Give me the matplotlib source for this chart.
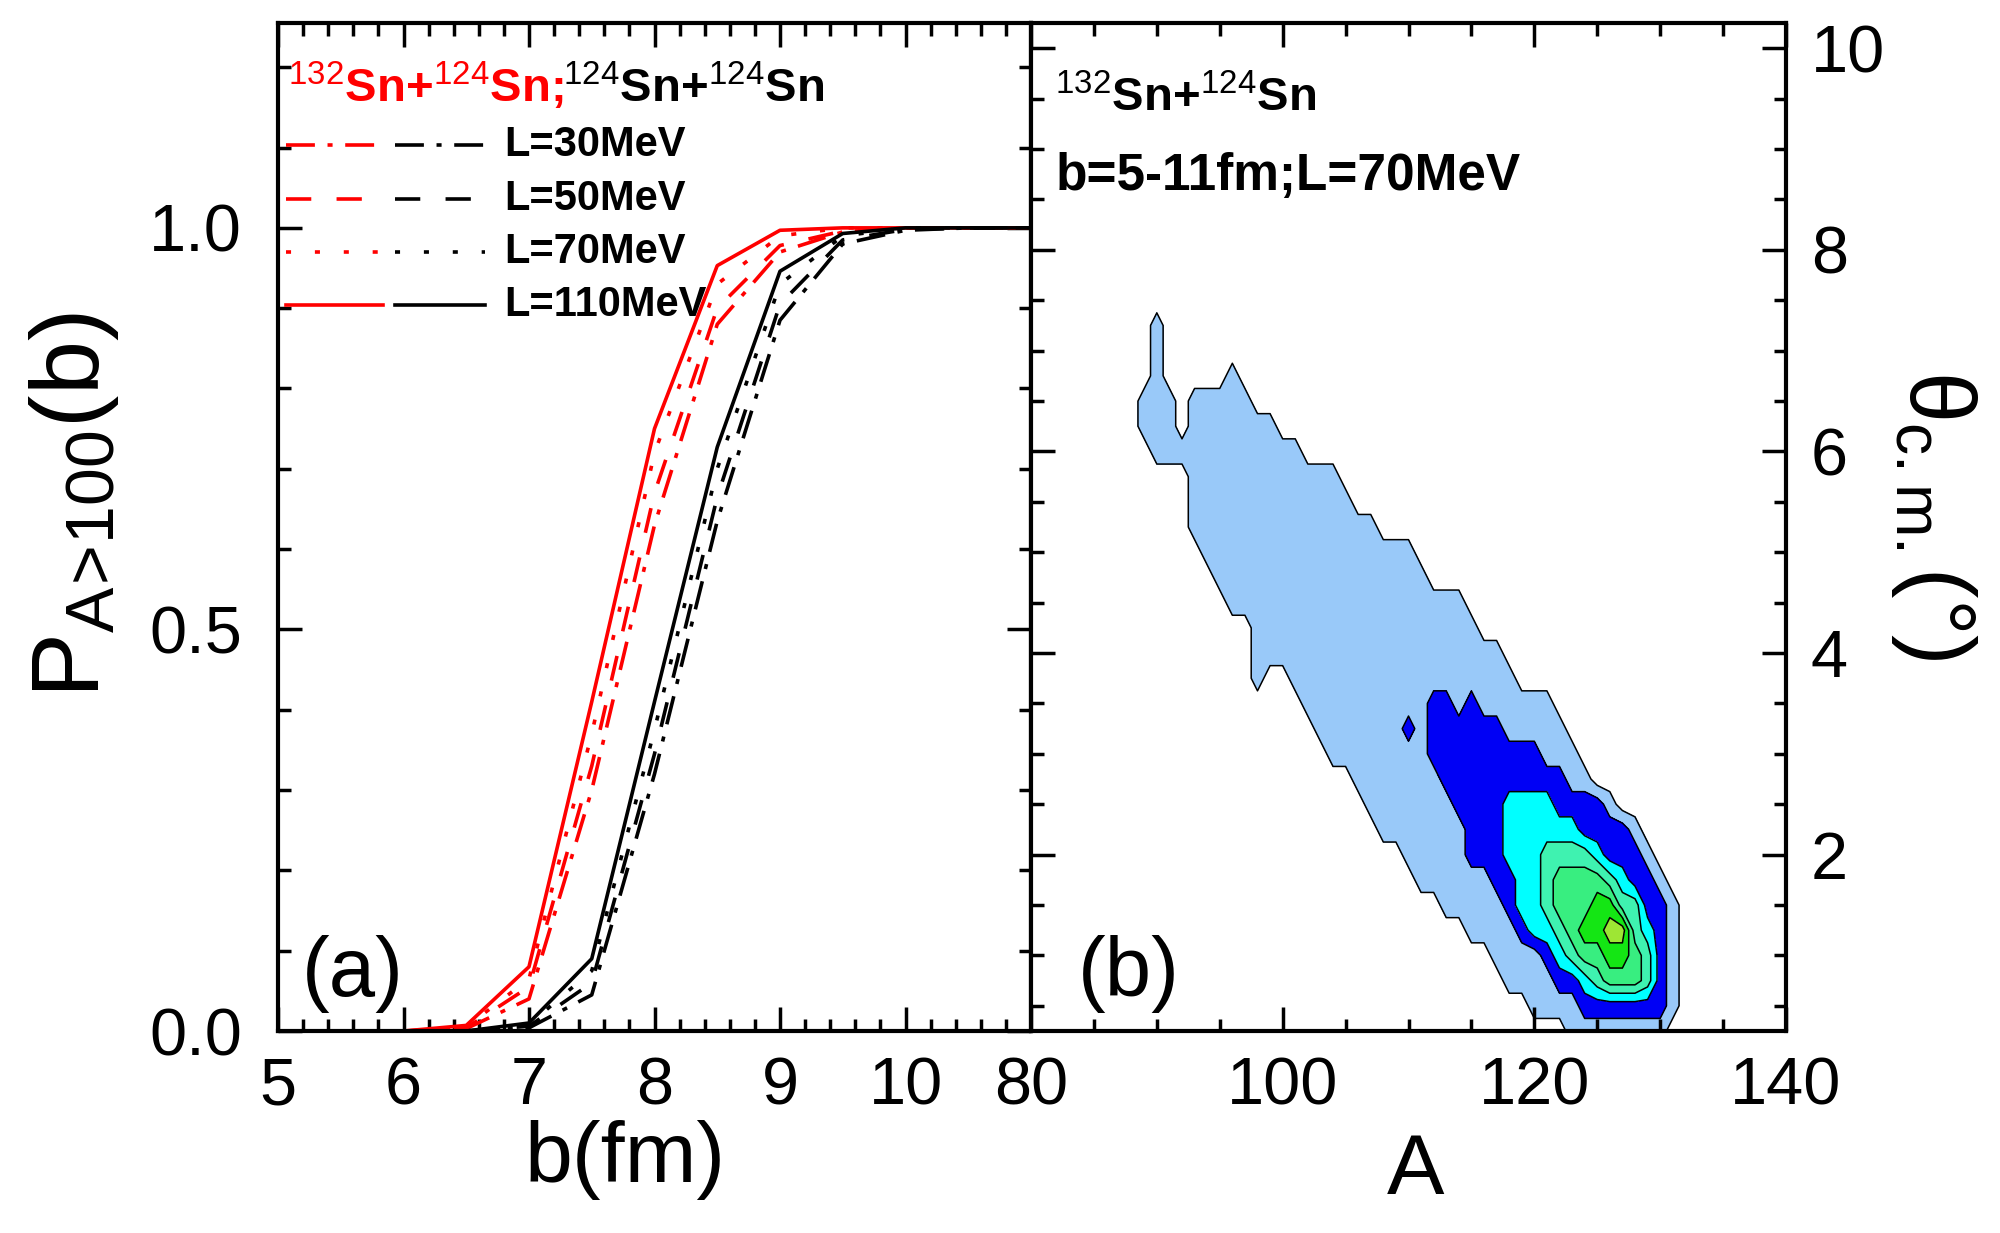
import numpy as np
import matplotlib
matplotlib.use('Agg')
import matplotlib.pyplot as plt
from matplotlib.ticker import MultipleLocator

plt.rcParams['font.family'] = ['Liberation Sans', 'DejaVu Sans']
plt.rcParams['mathtext.fontset'] = 'custom'
plt.rcParams['mathtext.rm'] = 'Liberation Sans'
plt.rcParams['mathtext.it'] = 'Liberation Sans:italic'
plt.rcParams['mathtext.bf'] = 'Liberation Sans:bold'
plt.rcParams['xtick.direction'] = 'in'
plt.rcParams['ytick.direction'] = 'in'

# ---- panel (a): P_{A>100}(b) ----
b_red = [6.0, 6.5, 7.0, 7.5, 8.0, 8.5, 9.0, 9.5, 10.0, 10.5, 11.0]
red_L30 = [0, 0.003, 0.040, 0.30, 0.63, 0.88, 0.970, 0.995, 1.0, 1.0, 1.0]
red_L50 = [0, 0.004, 0.055, 0.33, 0.67, 0.90, 0.978, 0.996, 1.0, 1.0, 1.0]
red_L70 = [0, 0.005, 0.065, 0.37, 0.72, 0.93, 0.990, 1.0, 1.0, 1.0, 1.0]
red_L110 = [0, 0.007, 0.080, 0.41, 0.75, 0.953, 0.997, 1.0, 1.0, 1.0, 1.0]

b_black = [6.5, 7.0, 7.5, 8.0, 8.5, 9.0, 9.5, 10.0, 10.5, 11.0]
blk_L30 = [0, 0.004, 0.045, 0.32, 0.635, 0.885, 0.980, 0.997, 1.0, 1.0]
blk_L50 = [0, 0.006, 0.060, 0.345, 0.665, 0.905, 0.985, 0.998, 1.0, 1.0]
blk_L70 = [0, 0.008, 0.075, 0.375, 0.70, 0.93, 0.990, 1.0, 1.0, 1.0]
blk_L110 = [0, 0.010, 0.090, 0.41, 0.727, 0.946, 0.993, 1.0, 1.0, 1.0]

L_labels = ['L=30MeV', 'L=50MeV', 'L=70MeV', 'L=110MeV']

# ---- panel (b): contour levels read on a grid A x theta ----
# (theta, A_from, A_to) node spans for each contour level
lvl1 = [(7.25, 90, 90), (7.0, 90, 90), (6.75, 90, 90), (6.75, 96, 96),
        (6.5, 89, 91), (6.5, 93, 97), (6.25, 89, 91), (6.25, 93, 99),
        (6.0, 90, 101), (5.75, 93, 104), (5.5, 93, 105), (5.25, 93, 107),
        (5.0, 94, 110), (4.75, 95, 111), (4.5, 96, 114), (4.25, 98, 115),
        (4.0, 98, 117), (3.75, 98, 98), (3.75, 101, 118), (3.5, 102, 121),
        (3.25, 103, 122), (3.0, 104, 123), (2.75, 106, 124), (2.5, 107, 126),
        (2.25, 108, 128), (2.0, 110, 129), (1.75, 111, 130), (1.5, 113, 131),
        (1.25, 115, 131), (1.0, 117, 131), (0.75, 118, 131), (0.5, 120, 131),
        (0.25, 123, 130), (0.0, 125, 130)]
lvl2 = [(3.5, 112, 113), (3.5, 115, 115), (3.25, 110, 110), (3.25, 112, 117),
        (3.0, 112, 120), (2.75, 113, 122), (2.5, 114, 125), (2.25, 115, 127),
        (2.0, 115, 128), (1.75, 117, 129), (1.5, 118, 130), (1.25, 119, 130),
        (1.0, 121, 130), (0.75, 122, 130), (0.5, 124, 130)]
lvl3 = [(2.5, 118, 121), (2.25, 118, 123), (2.0, 118, 125), (1.75, 119, 127),
        (1.5, 119, 128), (1.25, 120, 129), (1.0, 122, 129), (0.75, 124, 129)]
lvl4 = [(2.0, 121, 124), (1.75, 121, 126), (1.5, 121, 128), (1.25, 122, 128),
        (1.0, 123, 129), (0.75, 125, 129)]
lvl5 = [(1.75, 122, 125), (1.5, 122, 126), (1.25, 123, 127), (1.0, 124, 128),
        (0.75, 126, 128)]
lvl6 = [(1.5, 125, 126), (1.25, 124, 127), (1.0, 126, 127)]
lvl7 = [(1.25, 126, 127)]

A_nodes = np.arange(86, 135)
theta_nodes = np.arange(0, 7.75, 0.25)
fill_colors = ['#99c9f9', '#0000f5', '#00ffff', '#3ff2b0', '#38ee80', '#14e614', '#9ee634']

field = np.zeros((len(theta_nodes), len(A_nodes)))
for lvl, spans in enumerate([lvl1, lvl2, lvl3, lvl4, lvl5, lvl6, lvl7], start=1):
    for th, lo, hi in spans:
        i = int(round(th / 0.25))
        field[i, lo - A_nodes[0]:hi - A_nodes[0] + 1] = lvl

fig = plt.figure(figsize=(20, 12.33), dpi=100)
ax1 = fig.add_axes([0.139, 0.1638, 0.3765, 0.8175])
ax2 = fig.add_axes([0.5155, 0.1638, 0.3775, 0.8175])

lw = 2.6
styles = [(0, (8, 3.5, 1.4, 3.5)), (0, (7, 7)), (0, (1.4, 6.6)), '-']
for y, ls in zip([red_L30, red_L50, red_L70, red_L110], styles):
    ax1.plot(b_red, y, color='red', lw=lw, linestyle=ls)
for y, ls in zip([blk_L30, blk_L50, blk_L70, blk_L110], styles):
    ax1.plot(b_black, y, color='black', lw=lw, linestyle=ls)

# legend drawn by hand: red sample, black sample, label
rows_y = [0.879, 0.825, 0.773, 0.720]
for ry, ls, lab in zip(rows_y, styles, L_labels):
    ax1.plot([0.011, 0.14], [ry, ry], color='red', lw=lw, linestyle=ls,
             transform=ax1.transAxes, clip_on=False)
    ax1.plot([0.155, 0.275], [ry, ry], color='black', lw=lw, linestyle=ls,
             transform=ax1.transAxes, clip_on=False)
    ax1.text(0.30, ry, lab, transform=ax1.transAxes, fontsize=30,
             fontweight='bold', va='center', ha='left')

# two-colour heading: red part first, black part placed right after it
title_red = r'$^{\mathrm{132}}$Sn+$^{\mathrm{124}}$Sn;'
title_black = r'$^{\mathrm{124}}$Sn+$^{\mathrm{124}}$Sn'
t_red = ax1.text(0.013, 0.921, title_red, transform=ax1.transAxes, fontsize=34,
                 fontweight='bold', color='red', va='baseline', ha='left')
fig.canvas.draw()
bb = t_red.get_window_extent(renderer=fig.canvas.get_renderer())
x_end = ax1.transAxes.inverted().transform((bb.x1, bb.y0))[0]
ax1.text(x_end, 0.921, title_black, transform=ax1.transAxes, fontsize=34,
         fontweight='bold', color='black', va='baseline', ha='left')
ax1.text(0.032, 0.035, '(a)', transform=ax1.transAxes, fontsize=60,
         va='baseline', ha='left')

ax1.set_xlim(5, 11)
ax1.set_ylim(0, 1.255)
ax1.set_xticks([5, 6, 7, 8, 9, 10, 11])
ax1.set_xticklabels(['5', '6', '7', '8', '9', '10', ''])
ax1.xaxis.set_minor_locator(MultipleLocator(0.2))
ax1.set_yticks([0, 0.5, 1.0])
ax1.set_yticklabels(['0.0', '0.5', '1.0'])
ax1.yaxis.set_minor_locator(MultipleLocator(0.1))
ax1.set_xlabel('b(fm)', fontsize=62)
ax1.xaxis.set_label_coords(0.461, -0.088)

# ---- panel (b) ----
ax2.contourf(A_nodes, theta_nodes, field, levels=np.arange(0.5, 8, 1), colors=fill_colors)
ax2.contour(A_nodes, theta_nodes, field, levels=np.arange(0.5, 7, 1), colors='black',
            linewidths=1.1)
ax2.set_xlim(80, 140)
ax2.set_ylim(0.25, 10.25)
ax2.xaxis.set_major_locator(MultipleLocator(20))
ax2.xaxis.set_minor_locator(MultipleLocator(5))
ax2.set_yticks([2, 4, 6, 8, 10])
ax2.yaxis.set_minor_locator(MultipleLocator(0.5))
ax2.set_xlabel('A', fontsize=62)
ax2.xaxis.set_label_coords(0.51, -0.1)

ax2.text(0.032, 0.912, r'$^{\mathrm{132}}$Sn+$^{\mathrm{124}}$Sn', transform=ax2.transAxes,
         fontsize=34, fontweight='bold', va='baseline', ha='left')
ax2.text(0.032, 0.834, 'b=5-11fm;L=70MeV', transform=ax2.transAxes, fontsize=37,
         fontweight='bold', va='baseline', ha='left')
ax2.text(0.062, 0.035, '(b)', transform=ax2.transAxes, fontsize=60,
         va='baseline', ha='left')

for ax in (ax1, ax2):
    for sp in ax.spines.values():
        sp.set_linewidth(3)
    ax.tick_params(which='both', top=True, bottom=True, left=True, right=True, width=2.5)
    ax.tick_params(which='major', length=17, labelsize=48, pad=18)
    ax.tick_params(which='minor', length=9)
ax1.tick_params(axis='y', which='major', pad=26)
ax2.tick_params(axis='y', which='both', labelleft=False, labelright=True)

fig.text(0.037, 0.59, r'P$_{\mathrm{A}\!>\!\mathrm{100}}$(b)', rotation=90, fontsize=70,
         ha='center', va='center')
fig.text(0.967, 0.582, r'θ$_{\mathrm{c.m.}}$(°)', rotation=270, fontsize=66,
         ha='center', va='center')

fig.savefig('out.png', dpi=100)
